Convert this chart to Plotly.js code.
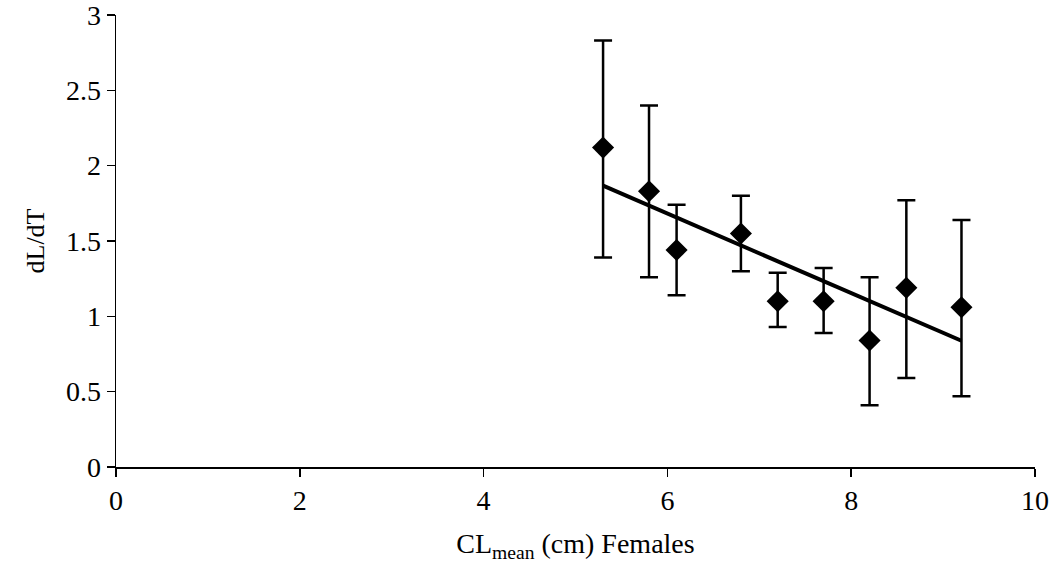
<!DOCTYPE html>
<html>
<head>
<meta charset="utf-8">
<script src="https://cdn.plot.ly/plotly-3.0.1.min.js"></script>
<style>html,body{margin:0;padding:0;background:#fff;}#chart{width:1056px;height:570px;}</style>
</head>
<body>
<div id="chart"></div>
<script>
const clMean = [5.3, 5.8, 6.1, 6.8, 7.2, 7.7, 8.2, 8.6, 9.2];
const dLdT = [2.12, 1.83, 1.44, 1.55, 1.10, 1.10, 0.84, 1.19, 1.06];
const errUpper = [0.71, 0.57, 0.30, 0.25, 0.19, 0.22, 0.42, 0.58, 0.58];
const errLower = [0.73, 0.57, 0.30, 0.25, 0.17, 0.21, 0.43, 0.60, 0.59];
const trendX = [5.3, 9.2];
const trendY = [1.867, 0.838];
const xTicks = [0, 2, 4, 6, 8, 10];
const yTicks = [0, 0.5, 1, 1.5, 2, 2.5, 3];

const font = 'Liberation Serif';

const data = [
  {
    x: clMean, y: dLdT, type: 'scatter', mode: 'markers',
    marker: {symbol: 'diamond', size: 17, color: '#000'},
    error_y: {type: 'data', symmetric: false, array: errUpper, arrayminus: errLower,
              color: '#000', thickness: 2.5, width: 9},
    showlegend: false, hoverinfo: 'skip'
  },
  {
    x: trendX, y: trendY, type: 'scatter', mode: 'lines',
    line: {color: '#000', width: 4},
    showlegend: false, hoverinfo: 'skip'
  }
];

const layout = {
  width: 1056, height: 570,
  margin: {l: 116, r: 21, t: 15, b: 103},
  paper_bgcolor: '#fff', plot_bgcolor: '#fff',
  font: {family: font, color: '#000', size: 28},
  xaxis: {
    range: [0, 10], tickmode: 'array', tickvals: xTicks,
    showgrid: false, zeroline: false, showline: true, linecolor: '#000', linewidth: 1.5,
    ticks: 'outside', ticklen: 8, tickwidth: 1.5, tickcolor: '#000',
    ticklabeloverflow: 'allow',
    tickfont: {family: font, size: 28, color: '#000'},
    title: {text: 'CL<sub>mean</sub> (cm) Females', font: {family: font, size: 28, color: '#000'}, standoff: 18}
  },
  yaxis: {
    range: [0, 3], tickmode: 'array', tickvals: yTicks,
    showgrid: false, zeroline: false, showline: true, linecolor: '#000', linewidth: 1.5,
    ticks: 'outside', ticklen: 8, tickwidth: 1.5, tickcolor: '#000',
    ticklabeloverflow: 'allow',
    tickfont: {family: font, size: 28, color: '#000'},
    title: {text: 'dL/dT', font: {family: font, size: 26, color: '#000'}, standoff: 14}
  }
};

Plotly.newPlot('chart', data, layout, {displayModeBar: false, staticPlot: true});
</script>
</body>
</html>
